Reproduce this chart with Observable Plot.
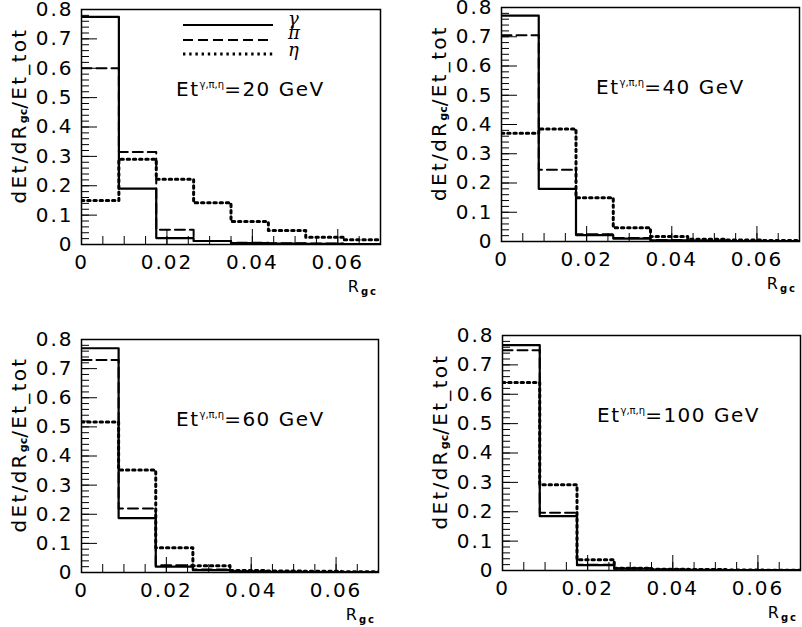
<!DOCTYPE html>
<html><head><meta charset="utf-8">
<script src="https://cdn.jsdelivr.net/npm/d3@7"></script>
<script src="https://cdn.jsdelivr.net/npm/@observablehq/plot@0.6"></script>
<style>
body{margin:0;background:#fff;}
#wrap{position:relative;width:802px;height:627px;overflow:hidden;background:#fff;}
#wrap svg{position:absolute;overflow:visible;}
</style></head><body><div id="wrap"></div>
<script>
// bin lower edges of R_gc, upper limit
const binStart = [0, 0.00875, 0.0175, 0.02625, 0.035, 0.04375, 0.0525, 0.06125];
const xMax = 0.07;
const energies = ["20", "40", "60", "100"];

const gamma20 = [0.775, 0.19, 0.022, 0.012, 0.005, 0.003, 0.002, 0.001];
const pi20    = [0.60, 0.315, 0.05, 0.012, 0.006, 0.004, 0.003, 0.002];
const eta20   = [0.15, 0.29, 0.222, 0.142, 0.078, 0.048, 0.025, 0.016];

const gamma40 = [0.772, 0.18, 0.022, 0.01, 0.004, 0.002, 0.001, 0.001];
const pi40    = [0.705, 0.245, 0.025, 0.012, 0.005, 0.003, 0.002, 0.001];
const eta40   = [0.37, 0.385, 0.15, 0.047, 0.017, 0.008, 0.005, 0.003];

const gamma60 = [0.77, 0.187, 0.02, 0.008, 0.003, 0.002, 0.001, 0.001];
const pi60    = [0.73, 0.22, 0.025, 0.01, 0.004, 0.002, 0.001, 0.001];
const eta60   = [0.517, 0.352, 0.085, 0.023, 0.007, 0.005, 0.004, 0.003];

const gamma100 = [0.767, 0.185, 0.018, 0.006, 0.003, 0.002, 0.001, 0.001];
const pi100    = [0.75, 0.197, 0.02, 0.008, 0.003, 0.002, 0.001, 0.001];
const eta100   = [0.64, 0.292, 0.037, 0.008, 0.004, 0.003, 0.002, 0.001];

const seriesByPanel = [
  [gamma20, pi20, eta20],
  [gamma40, pi40, eta40],
  [gamma60, pi60, eta60],
  [gamma100, pi100, eta100]
];

const xTickLabels = [0, 0.02, 0.04, 0.06];
const yTickLabels = [0, 0.1, 0.2, 0.3, 0.4, 0.5, 0.6, 0.7, 0.8];
const legendSymbols = ["γ", "π", "η"];

// layout of each panel (page position and margins)
const panels = [
  {left: 0,   top: 0,   width: 400, height: 313, ml: 81,  mr: 20, mt: 9,  mb: 69, legend: true},
  {left: 400, top: 0,   width: 402, height: 313, ml: 101, mr: 3,  mt: 7,  mb: 72},
  {left: 0,   top: 313, width: 400, height: 314, ml: 81,  mr: 22, mt: 26, mb: 55},
  {left: 400, top: 313, width: 402, height: 314, ml: 102, mr: 2,  mt: 22, mb: 57}
];

const FONT = "DejaVu Sans";
const DOT = "2.4,3.8";
const wrap = document.getElementById("wrap");

function rows(series) {
  const r = binStart.map((x, i) => ({x, y: series[i]}));
  r.push({x: xMax, y: series[series.length - 1]});
  return r;
}

const yMinor = d3.range(0, 0.8001, 0.02);
const yMajor = d3.range(0, 0.8001, 0.1);
const xMinor = d3.range(0, xMax, 0.005);
const xMajor = [0, 0.02, 0.04, 0.06];

panels.forEach((p, k) => {
  const [g, pi, eta] = seriesByPanel[k];
  const innerW = p.width - p.ml - p.mr;
  const innerH = p.height - p.mt - p.mb;
  const svg = Plot.plot({
    width: p.width, height: p.height,
    marginLeft: p.ml, marginRight: p.mr, marginTop: p.mt, marginBottom: p.mb,
    x: {domain: [0, xMax]},
    y: {domain: [0, 0.8]},
    style: {fontFamily: FONT, fontSize: "20px", color: "black", background: "transparent", letterSpacing: "2px"},
    marks: [
      Plot.tickY(yMinor, {y: d => d, insetRight: innerW - 8, stroke: "black", strokeWidth: 1}),
      Plot.tickY(yMajor, {y: d => d, insetRight: innerW - 16, stroke: "black", strokeWidth: 1}),
      Plot.tickX(xMinor, {x: d => d, insetTop: innerH - 8, stroke: "black", strokeWidth: 1}),
      Plot.tickX(xMajor, {x: d => d, insetTop: innerH - 15, stroke: "black", strokeWidth: 1}),
      Plot.line(rows(eta), {x: "x", y: "y", curve: "step-after", stroke: "black", strokeWidth: 3, strokeDasharray: DOT, clip: true}),
      Plot.line(rows(pi), {x: "x", y: "y", curve: "step-after", stroke: "black", strokeWidth: 2, strokeDasharray: "10,5", clip: true}),
      Plot.line(rows(g), {x: "x", y: "y", curve: "step-after", stroke: "black", strokeWidth: 2.2, clip: true}),
      Plot.frame({stroke: "black", strokeWidth: 1.5}),
      Plot.axisY(yTickLabels, {tickSize: 0, tickPadding: 8, tickFormat: d => String(d), label: null}),
      Plot.axisX(xTickLabels, {tickSize: 0, tickPadding: 10, tickFormat: d => String(d), label: null})
    ]
  });
  svg.style.left = p.left + "px";
  svg.style.top = p.top + "px";
  wrap.appendChild(svg);
  const s = d3.select(svg);
  const fx = p.ml, fy = p.mt, fr = p.width - p.mr, fb = p.height - p.mb;

  // y axis label
  const yl = s.append("text")
    .attr("transform", `translate(${fx - 62},${(fy + fb) / 2 - 11}) rotate(-90)`)
    .attr("text-anchor", "middle").attr("dominant-baseline", "central")
    .attr("font-family", FONT).attr("font-size", 20).attr("letter-spacing", "2.3px").attr("fill", "black");
  yl.append("tspan").text("dEt/dR");
  yl.append("tspan").attr("font-size", 11).attr("font-weight", "bold").attr("letter-spacing", "0px").attr("dy", 4).text("gc");
  yl.append("tspan").attr("dy", -4).text("/Et_tot");

  // x axis label
  const xl = s.append("text")
    .attr("x", fr - 2).attr("y", fb + 48).attr("text-anchor", "end")
    .attr("font-family", FONT).attr("font-size", 16).attr("fill", "black");
  xl.append("tspan").text("R");
  xl.append("tspan").attr("font-size", 10).attr("font-weight", "bold").attr("dy", 3).text("gc");

  // annotation
  const an = s.append("text")
    .attr("x", fx + 95).attr("y", fy + 87).attr("text-anchor", "start")
    .attr("font-family", FONT).attr("font-size", 20).attr("letter-spacing", "1.5px").attr("fill", "black");
  an.append("tspan").text("Et");
  an.append("tspan").attr("font-size", 10).attr("letter-spacing", "0px").attr("dy", -8).text("γ,π,η");
  an.append("tspan").attr("dy", 8).text("=" + energies[k] + " GeV");

  if (p.legend) {
    const styles = [
      {w: 2.2, dash: null},
      {w: 2, dash: "10,5"},
      {w: 3, dash: DOT}
    ];
    const ly = [16, 31, 45];
    const tb = [16, 30, 47];
    styles.forEach((st, i) => {
      const ln = s.append("line")
        .attr("x1", fx + 102).attr("x2", fx + 192)
        .attr("y1", fy + ly[i]).attr("y2", fy + ly[i])
        .attr("stroke", "black").attr("stroke-width", st.w);
      if (st.dash) ln.attr("stroke-dasharray", st.dash);
      s.append("text")
        .attr("x", fx + 207).attr("y", fy + tb[i]).attr("text-anchor", "start")
        .attr("font-family", "DejaVu Serif").attr("font-style", "italic")
        .attr("font-size", 18).attr("fill", "black")
        .text(legendSymbols[i]);
    });
  }
});
</script>
</body></html>
